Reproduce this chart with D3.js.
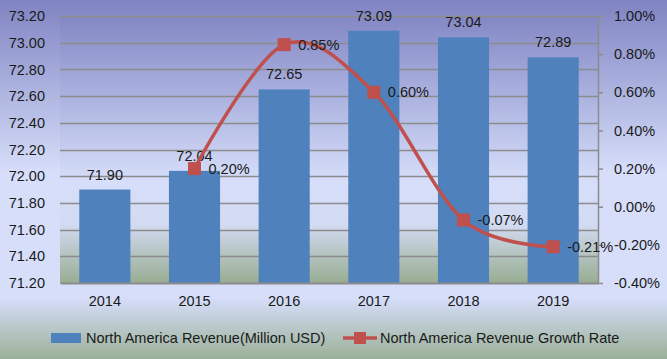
<!DOCTYPE html>
<html>
<head>
<meta charset="utf-8">
<script src="https://cdn.jsdelivr.net/npm/d3@7"></script>
<style>
  body { margin: 0; padding: 0; }
  svg { display: block; font-family: "Liberation Sans", Arial, sans-serif; }
</style>
</head>
<body>
<div id="chart"></div>
<script>
var years = ["2014", "2015", "2016", "2017", "2018", "2019"];
var revenue = [71.90, 72.04, 72.65, 73.09, 73.04, 72.89];
var growth = [null, 0.20, 0.85, 0.60, -0.07, -0.21];
var leftTicks = [71.2, 71.4, 71.6, 71.8, 72.0, 72.2, 72.4, 72.6, 72.8, 73.0, 73.2];
var rightTicks = [-0.4, -0.2, 0, 0.2, 0.4, 0.6, 0.8, 1.0];
var legendNames = ["North America Revenue(Million USD)", "North America Revenue Growth Rate"];

var fullWidth = 667, fullHeight = 359;
var margin = {top: 16, right: 69, bottom: 76, left: 60};
var width = fullWidth - margin.left - margin.right;
var height = fullHeight - margin.top - margin.bottom;
var fontSize = "14.5px";

function fix2(d) { return (+d).toFixed(2); }
function pct(d) { return (+d).toFixed(2) + "%"; }

var svg = d3.select("#chart").append("svg")
    .attr("width", fullWidth)
    .attr("height", fullHeight);

var defs = svg.append("defs");
var bgGrad = defs.append("linearGradient").attr("id", "bgGrad")
    .attr("x1", 0).attr("y1", 0).attr("x2", 0).attr("y2", 1);
bgGrad.append("stop").attr("offset", "0%").attr("stop-color", "#7f84c2");
bgGrad.append("stop").attr("offset", "48%").attr("stop-color", "#d6defa");
bgGrad.append("stop").attr("offset", "83%").attr("stop-color", "#d6defa");
bgGrad.append("stop").attr("offset", "100%").attr("stop-color", "#9bb098");

var plotGrad = defs.append("linearGradient").attr("id", "plotGrad")
    .attr("x1", 0).attr("y1", 0).attr("x2", 0).attr("y2", 1);
plotGrad.append("stop").attr("offset", "0%").attr("stop-color", "#8388c5");
plotGrad.append("stop").attr("offset", "62%").attr("stop-color", "#d6defa");
plotGrad.append("stop").attr("offset", "78%").attr("stop-color", "#d3dbf2");
plotGrad.append("stop").attr("offset", "100%").attr("stop-color", "#98ad92");

svg.append("rect")
    .attr("width", fullWidth)
    .attr("height", fullHeight)
    .attr("fill", "url(#bgGrad)");

var g = svg.append("g")
    .attr("transform", "translate(" + margin.left + "," + margin.top + ")");

g.append("rect")
    .attr("width", width)
    .attr("height", height)
    .attr("fill", "url(#plotGrad)");

var xScale = d3.scaleBand()
    .domain(years)
    .range([0, width])
    .paddingInner(0.43)
    .paddingOuter(0.215);

var yScale = d3.scaleLinear()
    .domain([71.2, 73.2])
    .range([height, 0]);

var y2Scale = d3.scaleLinear()
    .domain([-0.4, 1.0])
    .range([height, 0]);

// gridlines
g.append("g")
    .attr("class", "grid")
    .selectAll("line")
    .data(leftTicks.slice(1))
    .enter()
    .append("line")
    .attr("x1", 0)
    .attr("x2", width)
    .attr("y1", function(d) { return Math.round(yScale(d)) + 0.5; })
    .attr("y2", function(d) { return Math.round(yScale(d)) + 0.5; })
    .attr("stroke", "#8c8c8c")
    .attr("stroke-width", 1.5);

// left axis, labels only
var yAxis = d3.axisLeft(yScale)
    .tickValues(leftTicks)
    .tickSize(0)
    .tickPadding(15)
    .tickFormat(fix2);

g.append("g")
    .attr("class", "y-axis")
    .call(yAxis)
    .call(function(a) { a.select(".domain").remove(); })
    .selectAll("text")
    .style("font-size", fontSize)
    .attr("fill", "#1a1a1a");

// bars
g.append("g")
    .attr("class", "bars")
    .selectAll("rect")
    .data(revenue)
    .enter()
    .append("rect")
    .attr("x", function(d, i) { return xScale(years[i]); })
    .attr("y", function(d) { return yScale(d); })
    .attr("width", xScale.bandwidth())
    .attr("height", function(d) { return height - yScale(d); })
    .attr("fill", "#4f81bd");

g.append("g")
    .attr("class", "bar-labels")
    .selectAll("text")
    .data(revenue)
    .enter()
    .append("text")
    .attr("x", function(d, i) { return xScale(years[i]) + xScale.bandwidth() / 2; })
    .attr("y", function(d) { return yScale(d) - 10; })
    .attr("text-anchor", "middle")
    .style("font-size", fontSize)
    .attr("fill", "#1a1a1a")
    .text(fix2);

// bottom axis
var xAxis = d3.axisBottom(xScale).tickSize(0).tickPadding(13);
g.append("g")
    .attr("class", "x-axis")
    .attr("transform", "translate(0," + height + ")")
    .call(xAxis)
    .call(function(a) {
        a.select(".domain").attr("stroke", "#8c8c8c").attr("stroke-width", 2);
    })
    .selectAll("text")
    .style("font-size", fontSize)
    .attr("fill", "#1a1a1a");

// right axis
var y2Axis = d3.axisRight(y2Scale)
    .tickValues(rightTicks)
    .tickSizeInner(5)
    .tickSizeOuter(0)
    .tickPadding(11)
    .tickFormat(pct);

g.append("g")
    .attr("class", "y2-axis")
    .attr("transform", "translate(" + width + ",0)")
    .call(y2Axis)
    .call(function(a) {
        a.select(".domain").attr("stroke", "#8c8c8c").attr("stroke-width", 1.5);
        a.selectAll(".tick line").attr("stroke", "#8c8c8c").attr("stroke-width", 1.5);
    })
    .selectAll("text")
    .style("font-size", fontSize)
    .attr("fill", "#1a1a1a");

// growth line
var lineData = growth.map(function(d, i) { return {year: years[i], value: d}; })
    .filter(function(d) { return d.value !== null; });

var line = d3.line()
    .x(function(d) { return xScale(d.year) + xScale.bandwidth() / 2; })
    .y(function(d) { return y2Scale(d.value); })
    .curve(d3.curveCardinal.tension(0));

g.append("path")
    .datum(lineData)
    .attr("fill", "none")
    .attr("stroke", "#c0504d")
    .attr("stroke-width", 3.5)
    .attr("d", line);

g.append("g")
    .attr("class", "markers")
    .selectAll("rect")
    .data(lineData)
    .enter()
    .append("rect")
    .attr("x", function(d) { return xScale(d.year) + xScale.bandwidth() / 2 - 6.5; })
    .attr("y", function(d) { return y2Scale(d.value) - 6.5; })
    .attr("width", 13)
    .attr("height", 13)
    .attr("fill", "#c0504d");

g.append("g")
    .attr("class", "line-labels")
    .selectAll("text")
    .data(lineData)
    .enter()
    .append("text")
    .attr("x", function(d) { return xScale(d.year) + xScale.bandwidth() / 2 + 14; })
    .attr("y", function(d) { return y2Scale(d.value); })
    .attr("dy", "0.35em")
    .style("font-size", fontSize)
    .attr("fill", "#1a1a1a")
    .text(function(d) { return pct(d.value); });

// legend
var legend = svg.append("g").attr("class", "legend");
legend.append("rect")
    .attr("x", 51).attr("y", 333)
    .attr("width", 30).attr("height", 10)
    .attr("fill", "#4f81bd");
legend.append("text")
    .attr("x", 86).attr("y", 338)
    .attr("dy", "0.35em")
    .style("font-size", fontSize)
    .attr("fill", "#1a1a1a")
    .text(legendNames[0]);

legend.append("line")
    .attr("x1", 343).attr("x2", 377)
    .attr("y1", 338).attr("y2", 338)
    .attr("stroke", "#c0504d")
    .attr("stroke-width", 3.5);
legend.append("rect")
    .attr("x", 354).attr("y", 332)
    .attr("width", 12).attr("height", 12)
    .attr("fill", "#c0504d");
legend.append("text")
    .attr("x", 380).attr("y", 338)
    .attr("dy", "0.35em")
    .style("font-size", fontSize)
    .attr("fill", "#1a1a1a")
    .text(legendNames[1]);
</script>
</body>
</html>
